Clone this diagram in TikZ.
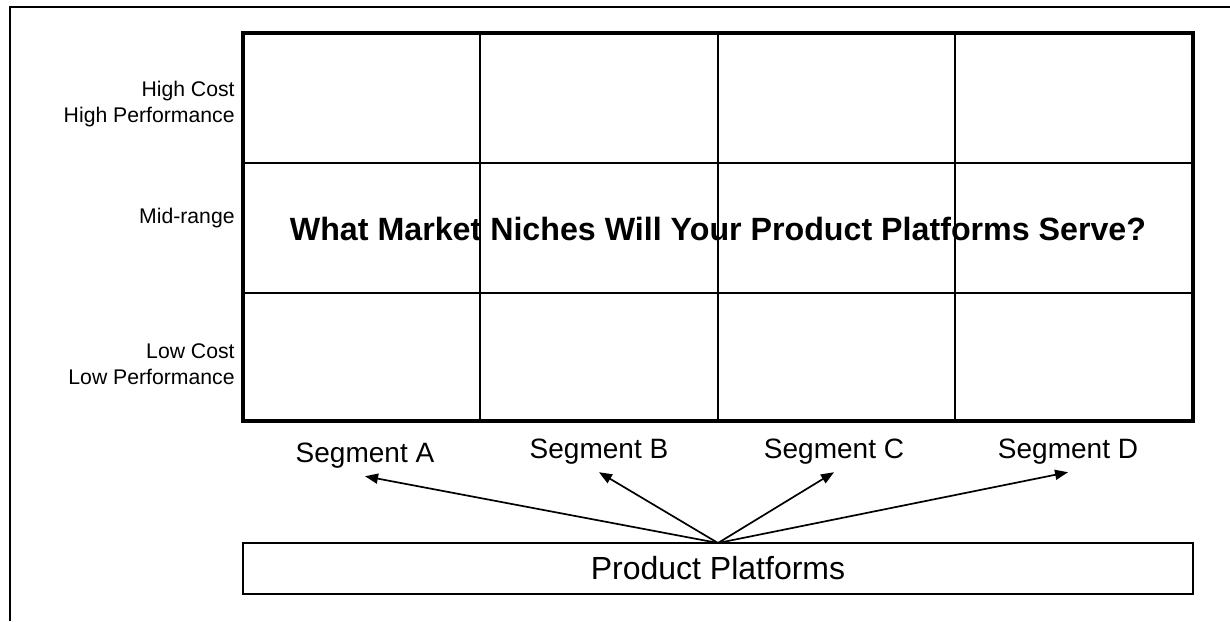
\documentclass[tikz,border=0pt]{standalone}
\usepackage{fontspec}
\setmainfont{Liberation Sans}
\usetikzlibrary{positioning,arrows.meta}

\begin{document}
\begin{tikzpicture}[
  x=0.5pt, y=-0.5pt,
  frameline/.style={line width=1pt},
  gridbox/.style={draw,line width=1.6pt,outer sep=0pt,minimum width=475pt,minimum height=194pt},
  cellline/.style={line width=0.8pt},
  level/.style={font=\fontsize{10.6}{13}\selectfont,align=right,anchor=east,inner sep=0pt},
  question/.style={font=\fontsize{16.1}{19}\selectfont\bfseries,anchor=base,inner sep=0pt},
  segment/.style={font=\fontsize{14}{17}\selectfont,anchor=base,inner sep=0pt},
  platform/.style={draw,line width=1.3pt,outer sep=0pt,minimum width=475pt,minimum height=25.5pt,font=\fontsize{16}{19}\selectfont},
  every edge/.style={draw,line width=0.85pt,-{Triangle[length=6.5pt,width=5pt]}},
]
  \useasboundingbox (0,0) rectangle (1230,621);

  % Outer frame
  \draw[frameline] (1230,7) -- (10,7) -- (10,621);

  % Niche grid
  \node[gridbox] (grid) at (718,227) {};
  \foreach \x in {480,718,955}
    \draw[cellline] (\x,33) -- (\x,421);
  \foreach \y in {163,293}
    \draw[cellline] (243,\y) -- (1193,\y);

  % Price / performance levels
  \node[level] (high) at (235,104) {High Cost\\High Performance};
  \node[level] (mid) at (235,218) {Mid-range};
  \node[level] (low) at (235,364) {Low Cost\\Low Performance};

  % Question
  \node[question] (niches) at (718,240) {What Market Niches Will Your Product Platforms Serve?};

  % Segments
  \node[segment] (segA) at (365,462) {Segment A};
  \node[segment] (segB) at (599,458) {Segment B};
  \node[segment] (segC) at (834,458) {Segment C};
  \node[segment] (segD) at (1068,458) {Segment D};

  % Platforms
  \node[platform,below=61pt of grid] (platforms) {Product Platforms};
  \coordinate (hub) at (platforms.north);
  \coordinate[below=4pt of segA] (tipA);
  \coordinate[below=4pt of segB] (tipB);
  \coordinate[below=4pt of segC] (tipC);
  \coordinate[below=4pt of segD] (tipD);

  % Edges: platforms to segments
  \path (hub) edge (tipA);
  \path (hub) edge (tipB);
  \path (hub) edge (tipC);
  \path (hub) edge (tipD);
\end{tikzpicture}
\end{document}
